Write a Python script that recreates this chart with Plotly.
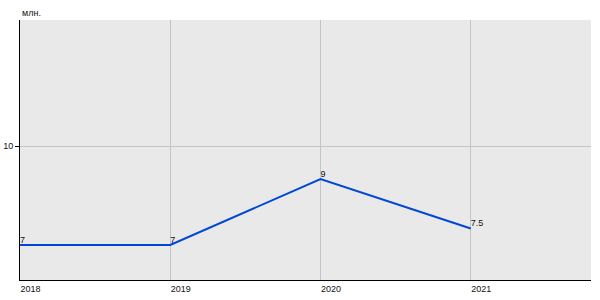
import plotly.graph_objects as go

years = [2018, 2019, 2020, 2021]
values = [7, 7, 9, 7.5]
value_labels = ["7", "7", "9", "7.5"]
year_labels = ["2018", "2019", "2020", "2021"]
y_ticks = [10]
unit_label = "млн."

fig = go.Figure()
fig.add_trace(go.Scatter(
    x=years, y=values, mode="lines+text",
    text=value_labels, textposition="top right",
    textfont=dict(family="Liberation Sans, Arial", size=9, color="#111111"),
    line=dict(color="#0047d9", width=2),
    cliponaxis=False, hoverinfo="skip", showlegend=False,
))

fig.update_layout(
    width=600, height=300,
    margin=dict(l=20, r=9, t=20, b=20),
    paper_bgcolor="white", plot_bgcolor="#e9e9e9",
    font=dict(family="Liberation Sans, Arial", size=9, color="#111111"),
    xaxis=dict(
        range=[2018, 2021.8], tickvals=years, ticktext=year_labels,
        showgrid=True, gridcolor="#c4c4c4", gridwidth=1,
        showline=True, linecolor="black", linewidth=1,
        ticks="", ticklabelposition="outside right",
        zeroline=False, fixedrange=True, automargin=False,
    ),
    yaxis=dict(
        range=[5.94, 13.82], tickvals=y_ticks,
        showgrid=True, gridcolor="#c4c4c4", gridwidth=1,
        showline=True, linecolor="black", linewidth=1,
        ticks="outside", ticklen=4, tickcolor="black",
        zeroline=False, fixedrange=True, automargin=False,
    ),
    annotations=[dict(
        text=unit_label, xref="paper", yref="paper", x=0, y=1,
        xanchor="left", yanchor="bottom", yshift=0, showarrow=False,
        font=dict(size=9, color="#111111"),
    )],
)

fig.write_html("out.html")
